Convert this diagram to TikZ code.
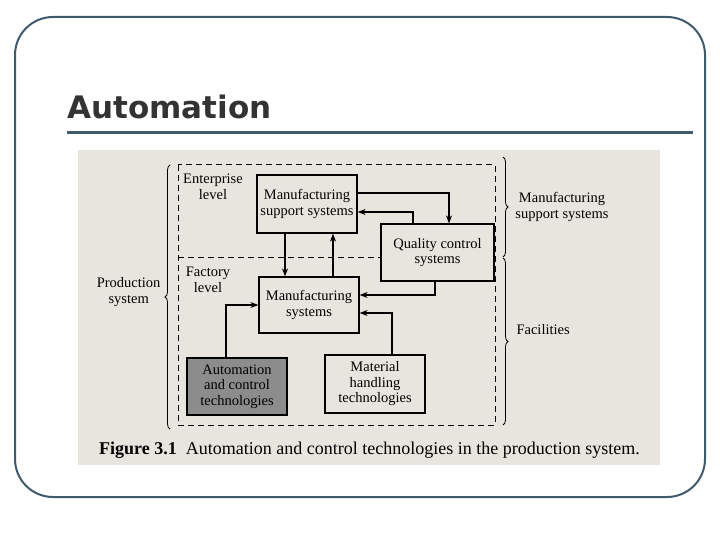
\documentclass[tikz,border=0pt]{standalone}
\usepackage{fontspec}
\setmainfont{Liberation Serif}
\newfontfamily\titlefont{DejaVu Sans}
\usetikzlibrary{decorations.pathreplacing,arrows.meta}
\definecolor{frame}{HTML}{3F5A6A}
\definecolor{paper}{HTML}{E8E5DF}
\tikzset{
 blk/.style={draw,line width=1.2pt,fill=paper,align=center,font=\fontsize{14.5}{15.5}\selectfont,inner sep=0pt},
 lbl/.style={align=center,font=\fontsize{14.5}{15.5}\selectfont},
 arr/.style={line width=1.3pt,-{Stealth[length=8pt,width=6pt]}},
 dsh/.style={line width=1pt,dash pattern=on 6pt off 4pt},
 br/.style={decorate,decoration={brace,amplitude=5pt},line width=0.8pt}
}
\begin{document}
\begin{tikzpicture}[x=1pt,y=-1pt]
\useasboundingbox (0,0) rectangle (720,540);
\fill[white] (0,0) rectangle (720,540);
\draw[frame,line width=2pt,rounded corners=38pt] (15,17) rectangle (705,497);
\node[anchor=west,text=black!80,font=\titlefont\bfseries\fontsize{31}{34}\selectfont,inner sep=0pt] (title) at (67,107) {Automation};
\draw[frame,line width=3pt] (67,133) -- (693,133);
% figure
\fill[paper] (78,150) rectangle (660,465);
\draw[dsh] (178,165) rectangle (495,425);
\draw[dsh] (178,257) -- (381,257);
\node[blk,minimum width=100pt,minimum height=58pt] (mss) at (307,204) {Manufacturing\\support systems};
\node[blk,minimum width=113pt,minimum height=57pt] (qc) at (437.5,252.5) {Quality control\\systems};
\node[blk,minimum width=100pt,minimum height=56pt] (ms) at (309,305) {Manufacturing\\systems};
\node[blk,fill=black!45,minimum width=100pt,minimum height=57pt] (act) at (237,386.5) {Automation\\and control\\technologies};
\node[blk,minimum width=100pt,minimum height=58pt] (mh) at (375,384) {Material\\handling\\technologies};
\node[lbl] (ent) at (213,187) {Enterprise\\level};
\node[lbl] (fac) at (208,280) {Factory\\level};
\draw[arr] (mss.south -| 285,0) -- (ms.north -| 285,0);
\draw[arr] (ms.north -| 333,0) -- (mss.south -| 333,0);
\draw[arr] (mss.east |- 0,193) -- (449,193) -- (qc.north -| 449,0);
\draw[arr] (qc.north -| 413,0) -- (413,212) -- (mss.east |- 0,212);
\draw[arr] (qc.south -| 435,0) -- (435,295) -- (ms.east |- 0,295);
\draw[arr] (act.north -| 226,0) -- (226,305) -- (ms.west |- 0,305);
\draw[arr] (mh.north -| 392,0) -- (392,313) -- (ms.east |- 0,313);
\draw[br] (170,429) -- (170,165);
\node[lbl,anchor=east] (ps) at (164,292) {Production\\system};
\draw[br] (503,157) -- (503,257);
\node[lbl] (mssl) at (562,207) {Manufacturing\\support systems};
\draw[br] (503,258) -- (503,425);
\node[lbl,anchor=west] (facl) at (513,330) {Facilities};
\node[anchor=west,font=\fontsize{18}{20}\selectfont,inner sep=0pt] (cap) at (99,450) {\textbf{Figure 3.1}\ \ Automation and control technologies in the production system.};
\end{tikzpicture}
\end{document}
